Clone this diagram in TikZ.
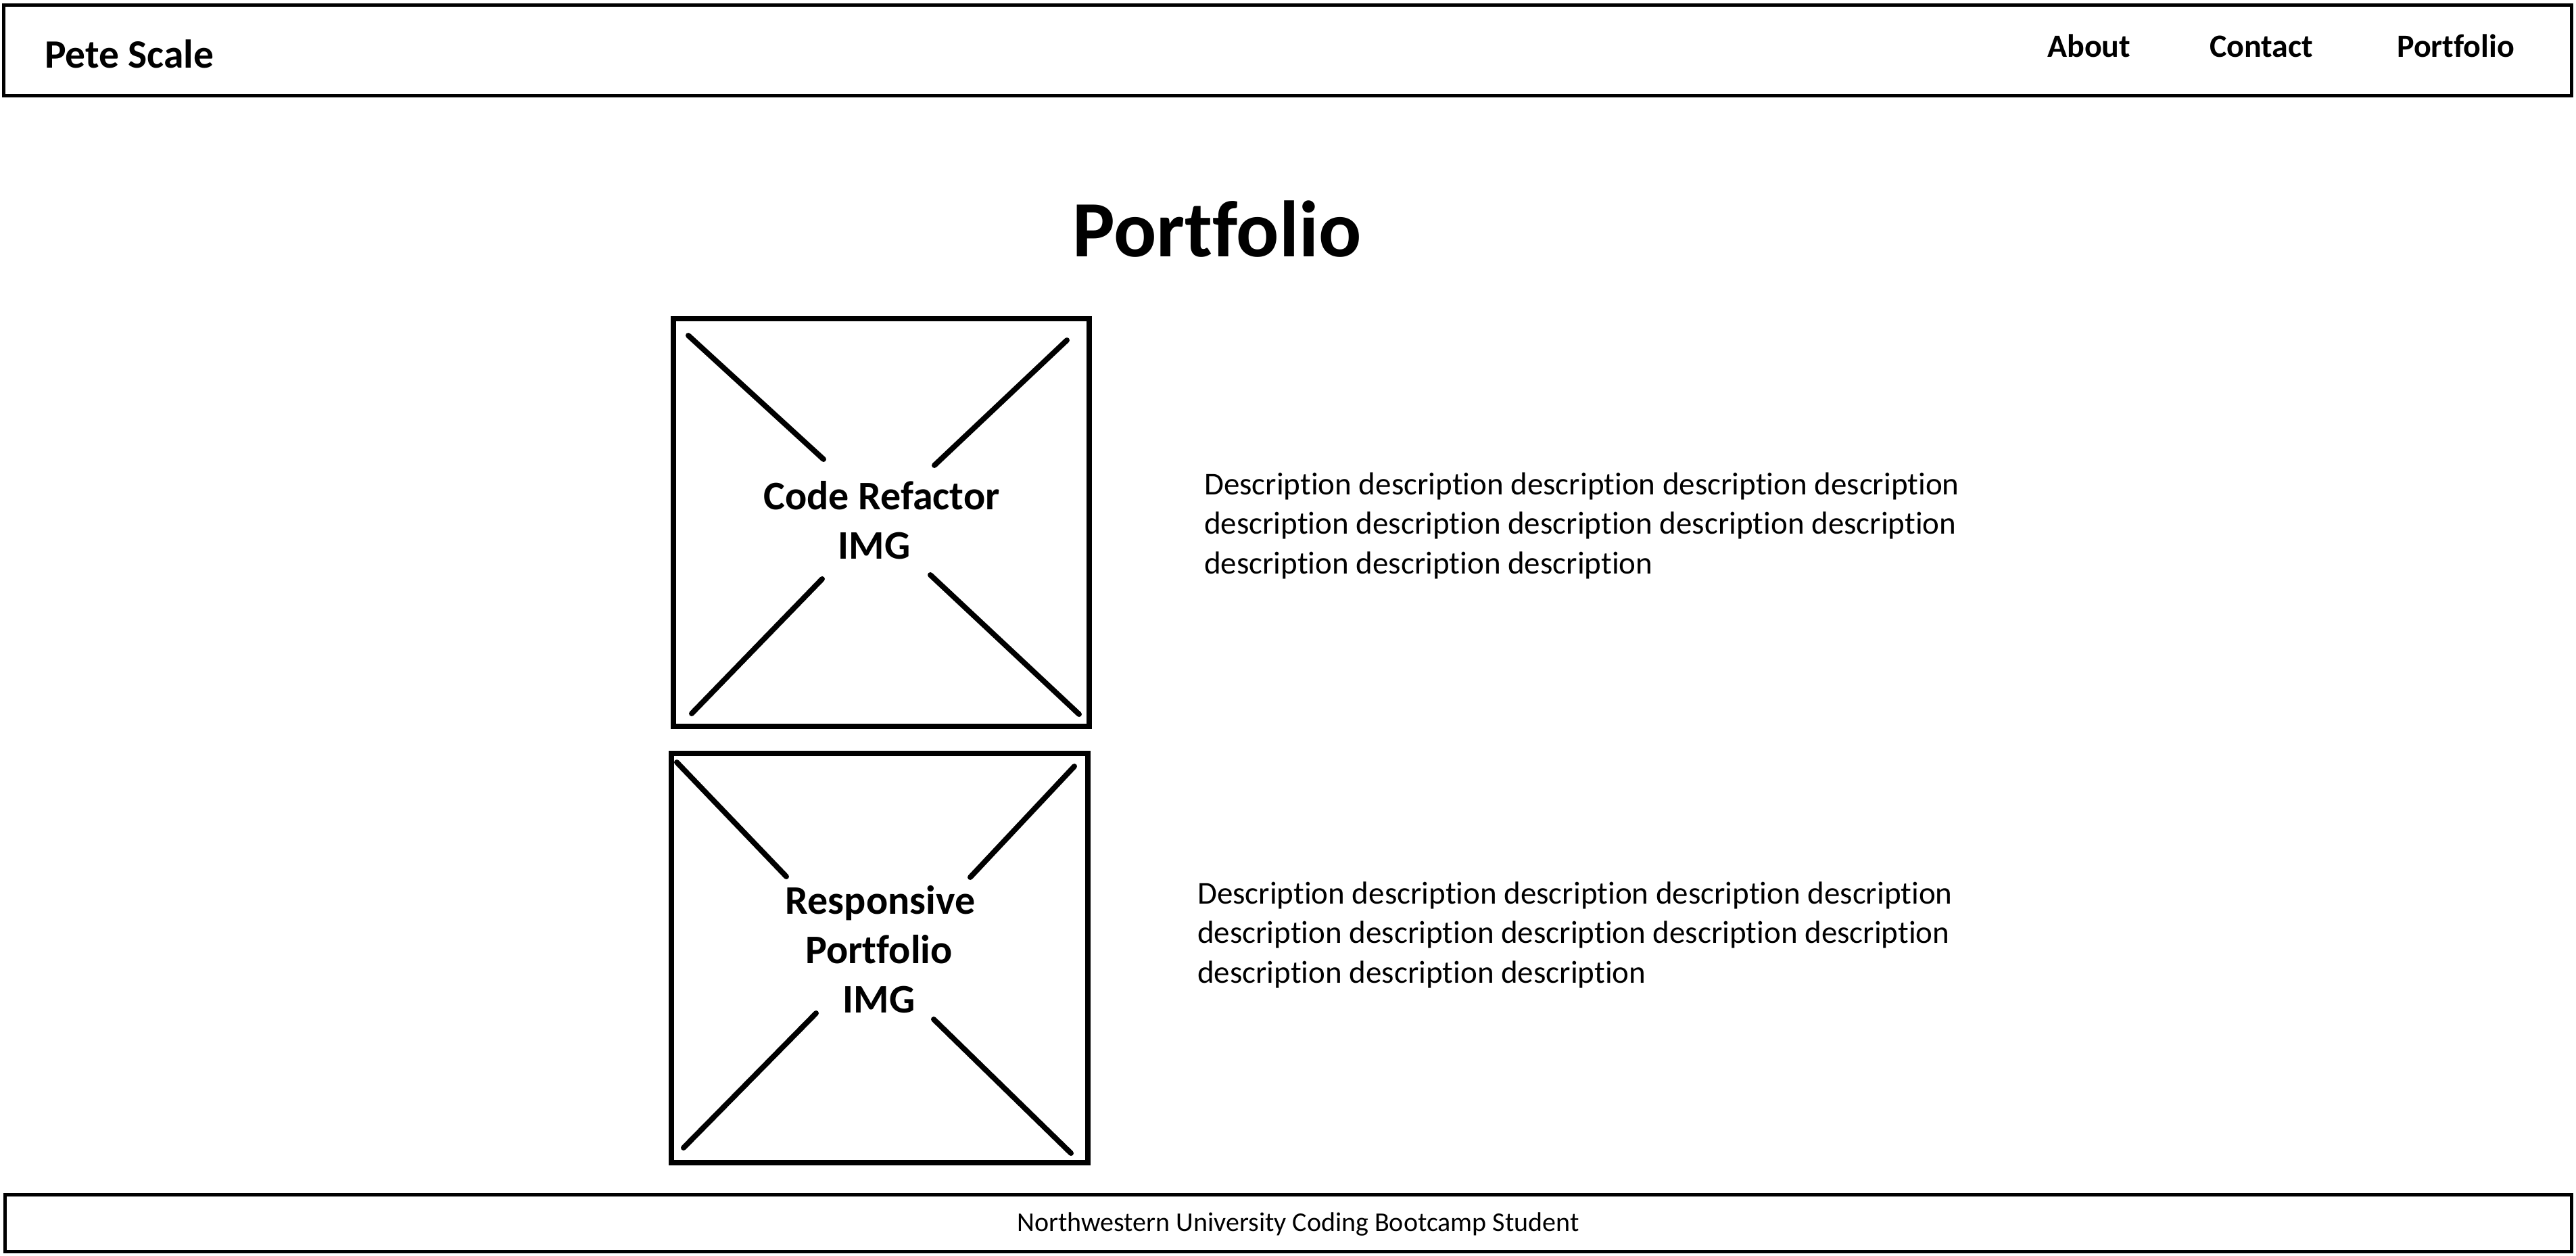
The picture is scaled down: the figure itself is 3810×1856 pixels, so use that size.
\documentclass[tikz,border=0pt]{standalone}
\usepackage{fontspec}
\setmainfont{Carlito}[RawFeature={-liga;-clig;-dlig}]
\begin{document}
\begin{tikzpicture}[x=1pt,y=-1pt,
  frame/.style={draw=black,line width=5pt,fill=none},
  imgbox/.style={draw=black,line width=8pt},
  cross/.style={draw=black,line width=8pt,line cap=round},
  brand/.style={inner sep=0pt,anchor=base west,font=\fontsize{59.5}{70}\selectfont\bfseries},
  navlink/.style={inner sep=0pt,anchor=base west,font=\fontsize{48}{58}\selectfont\bfseries},
  heading/.style={inner sep=0pt,anchor=base,font=\fontsize{118}{140}\selectfont\bfseries},
  imglabel/.style={inner sep=0pt,anchor=base,font=\fontsize{60}{73}\selectfont\bfseries},
  desc/.style={inner sep=0pt,anchor=base west,font=\fontsize{47}{58}\selectfont},
  foot/.style={inner sep=0pt,anchor=base,font=\fontsize{40}{48}\selectfont}]
\useasboundingbox (0,0) rectangle (3810,1856);
\fill[white] (0,0) rectangle (3810,1856);

% header
\draw[frame] (5,7) rectangle (3803,141);
\node[brand] (brand) at (66,100) {Pete Scale};
\node[navlink] (about) at (3028,84) {About};
\node[navlink] (contact) at (3268,84) {Contact};
\node[navlink] (portnav) at (3545,84) {Portfolio};

% title
\node[heading] (title) at (1800,379) {Portfolio};

% image box 1
\draw[imgbox] (996,471) rectangle (1611,1074);
\draw[cross] (1018,496) -- (1218,679);
\draw[cross] (1578,503) -- (1382,688);
\draw[cross] (1216,856) -- (1023,1055);
\draw[cross] (1376,850) -- (1596,1056);
\node[imglabel] (img1a) at (1304,753) {Code Refactor};
\node[imglabel] (img1b) at (1293,826) {IMG};

% image box 2
\draw[imgbox] (993,1114) rectangle (1609,1719);
\draw[cross] (1001,1127) -- (1163,1296);
\draw[cross] (1589,1133) -- (1435,1297);
\draw[cross] (1207,1498) -- (1011,1697);
\draw[cross] (1381,1507) -- (1584,1705);
\node[imglabel] (img2a) at (1302,1351) {Responsive};
\node[imglabel] (img2b) at (1300,1424) {Portfolio};
\node[imglabel] (img2c) at (1300,1497) {IMG};

% descriptions
\node[desc] (d1a) at (1781,731) {Description description description description description};
\node[desc] (d1b) at (1781,789) {description description description description description};
\node[desc] (d1c) at (1781,848) {description description description};
\node[desc] (d2a) at (1771,1336) {Description description description description description};
\node[desc] (d2b) at (1771,1394) {description description description description description};
\node[desc] (d2c) at (1771,1453) {description description description};

% footer
\draw[frame] (7,1766) rectangle (3803,1850);
\node[foot] (footer) at (1920,1820) {Northwestern University Coding Bootcamp Student};
\end{tikzpicture}
\end{document}
